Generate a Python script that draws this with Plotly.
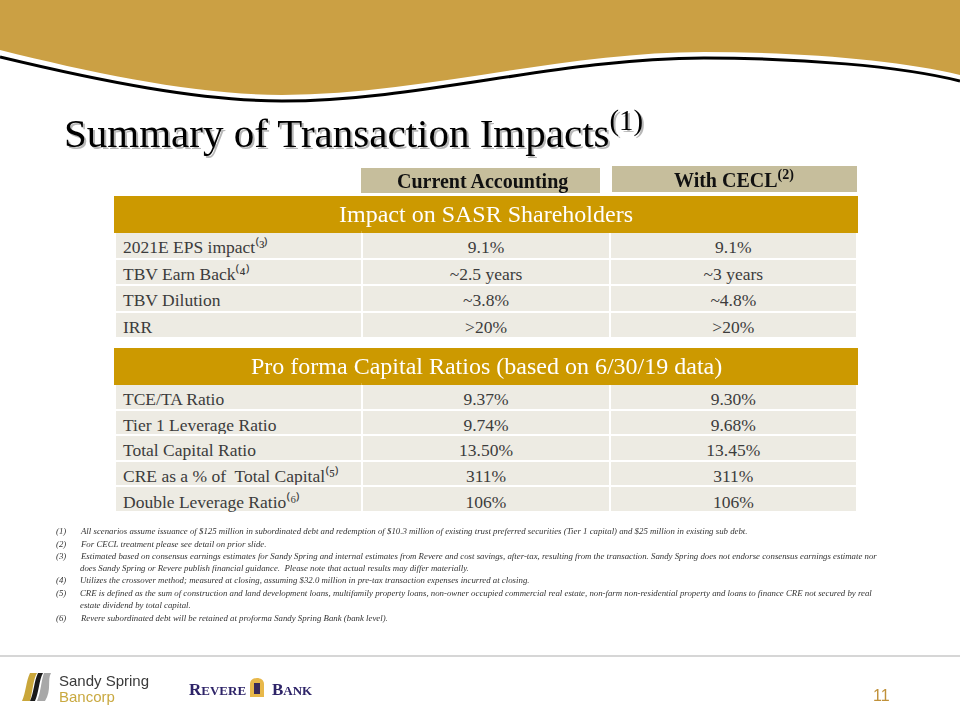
import plotly.graph_objects as go

# ---------------- data ----------------
title_text = "Summary of Transaction Impacts<sup>(1)</sup>"
col_headers = ["Current Accounting", "With CECL<sup>(2)</sup>"]

sec1_title = "Impact on SASR Shareholders"
sec1_labels = ["2021E EPS impact⁽³⁾", "TBV Earn Back⁽⁴⁾", "TBV Dilution", "IRR"]
sec1_current = ["9.1%", "~2.5 years", "~3.8%", ">20%"]
sec1_cecl = ["9.1%", "~3 years", "~4.8%", ">20%"]

sec2_title = "Pro forma Capital Ratios (based on 6/30/19 data)"
sec2_labels = ["TCE/TA Ratio", "Tier 1 Leverage Ratio", "Total Capital Ratio",
               "CRE as a % of  Total Capital⁽⁵⁾", "Double Leverage Ratio⁽⁶⁾"]
sec2_current = ["9.37%", "9.74%", "13.50%", "311%", "106%"]
sec2_cecl = ["9.30%", "9.68%", "13.45%", "311%", "106%"]

footnote_nums = ["(1)", "(2)", "(3)", "", "(4)", "(5)", "", "(6)"]
footnote_lines = [
    "All scenarios assume issuance of $125 million in subordinated debt and redemption of $10.3 million of existing trust preferred securities (Tier 1 capital) and $25 million in existing sub debt.",
    "For CECL treatment please see detail on prior slide.",
    "Estimated based on consensus earnings estimates for Sandy Spring and internal estimates from Revere and cost savings, after-tax, resulting from the transaction. Sandy Spring does not endorse consensus earnings estimate nor",
    "does Sandy Spring or Revere publish financial guidance.  Please note that actual results may differ materially.",
    "Utilizes the crossover method; measured at closing, assuming $32.0 million in pre-tax transaction expenses incurred at closing.",
    "CRE is defined as the sum of construction and land development loans, multifamily property loans, non-owner occupied commercial real estate, non-farm non-residential property and loans to finance CRE not secured by real",
    "estate dividend by total capital.",
    "Revere subordinated debt will be retained at proforma Sandy Spring Bank (bank level).",
]
page_number = "11"

# ---------------- style ----------------
W, H = 960, 720
BAND = "#CBA044"
GOLD = "#CC9900"
CELL = "#EDEBE3"
TAN = "#C6BE9C"
TXT = "#3C3C3C"
SERIF = "Liberation Serif"
LW = 2
HDR_H = 35
CELL_FONT = dict(family=SERIF, size=17.5, color=TXT)
ALIGN = ["left", "center", "center"]

fig = go.Figure()
# invisible trace to establish a pixel coordinate system
fig.add_trace(go.Scatter(x=[0, W], y=[0, H], mode="markers", opacity=0,
                         hoverinfo="skip", showlegend=False))

def dom(top, bottom):
    return dict(x=[115 / W, 857 / W], y=[1 - bottom / H, 1 - top / H])

def has_sign(v):
    return v[:1] in (">", "<")

def add_section(labels, cur, cecl, top, row_h):
    plain = [i for i in range(len(labels)) if not (has_sign(cur[i]) or has_sign(cecl[i]))]
    signed = [i for i in range(len(labels)) if i not in plain]
    n = len(plain)
    fig.add_trace(go.Table(
        domain=dom(top, top + HDR_H + (n + 1) * row_h + 10),
        columnwidth=[1, 1, 1],
        header=dict(values=["", "", ""], fill_color=GOLD,
                    line=dict(color=GOLD, width=LW), height=HDR_H),
        cells=dict(values=[[labels[i] for i in plain], [cur[i] for i in plain],
                           [cecl[i] for i in plain]],
                   fill_color=CELL, line=dict(color="white", width=LW), height=row_h,
                   align=ALIGN, font=CELL_FONT),
    ))
    # rows whose values start with a comparison sign: one-row tables where the sign
    # is passed as a column prefix, so the text stays plain (fixed row height)
    y = top + HDR_H + n * row_h
    for i in signed:
        pre = ["", cur[i][0] if has_sign(cur[i]) else "", cecl[i][0] if has_sign(cecl[i]) else ""]
        vals = [labels[i], cur[i][1:] if has_sign(cur[i]) else cur[i],
                cecl[i][1:] if has_sign(cecl[i]) else cecl[i]]
        fig.add_trace(go.Table(
            domain=dom(y, y + row_h + 10),
            columnwidth=[1, 1, 1],
            header=dict(values=vals, prefix=pre, fill_color=CELL,
                        line=dict(color="white", width=LW), height=row_h,
                        align=ALIGN, font=CELL_FONT),
            cells=dict(values=[[], [], []]),
        ))
        y += row_h

add_section(sec1_labels, sec1_current, sec1_cecl, 197, 26.5)
add_section(sec2_labels, sec2_current, sec2_cecl, 349, 25.6)

shapes = []
# top wave band
shapes.append(dict(type="path", xref="x", yref="y", layer="above",
                   path="M0,0 L960,0 L960,75 C900,60 800,52 704,52 C560,52 420,95 282,95 C200,95 100,75 0,50 Z",
                   fillcolor=BAND, line=dict(width=0)))
shapes.append(dict(type="path", xref="x", yref="y", layer="above",
                   path="M960,81 C900,66 800,58 704,58 C560,58 420,101 282,101 C200,101 100,81 0,57",
                   line=dict(color="black", width=3)))
# column header boxes
shapes.append(dict(type="rect", xref="x", yref="y", x0=361, x1=600, y0=168, y1=193,
                   fillcolor=TAN, line=dict(width=0)))
shapes.append(dict(type="rect", xref="x", yref="y", x0=612, x1=857, y0=166, y1=192,
                   fillcolor=TAN, line=dict(width=0)))
# footer rule
shapes.append(dict(type="line", xref="x", yref="y", x0=0, x1=960, y0=656, y1=656,
                   line=dict(color="#D6D6D6", width=2)))
# Sandy Spring icon (approximate)
shapes.append(dict(type="path", xref="x", yref="y",
                   path="M30,673 L37,673 C33,680 33,690 30,701 L22,701 C26,692 26,681 30,673 Z",
                   fillcolor="#C9A63A", line=dict(width=0)))
shapes.append(dict(type="path", xref="x", yref="y",
                   path="M38,673 L43,673 C39,680 39,692 35,701 L30,701 C34,692 34,681 38,673 Z",
                   fillcolor="#1A1A1A", line=dict(width=0)))
shapes.append(dict(type="path", xref="x", yref="y",
                   path="M44,673 L51,673 C47,680 52,690 45,701 L37,701 C41,692 41,681 44,673 Z",
                   fillcolor="#A8A8A8", line=dict(width=0)))
# Revere lantern icon (approximate)
shapes.append(dict(type="path", xref="x", yref="y",
                   path="M250,697 L250,684 C250,676 264,676 264,684 L264,697 Z",
                   fillcolor="#E8B84A", line=dict(width=0)))
shapes.append(dict(type="rect", xref="x", yref="y", x0=254, x1=260, y0=683, y1=694,
                   fillcolor="#3A2A5A", line=dict(width=0)))
fig.update_layout(shapes=shapes)

ann = []
# title with shadow
ann.append(dict(x=63.5, y=131.5, xref="x", yref="y", text=title_text, showarrow=False,
                xanchor="left", yanchor="middle",
                font=dict(family=SERIF, size=41, color="#B8B8B8")))
ann.append(dict(x=62, y=130, xref="x", yref="y", text=title_text, showarrow=False,
                xanchor="left", yanchor="middle",
                font=dict(family=SERIF, size=41, color="#000000")))
# column headers
ann.append(dict(x=482, y=181, xref="x", yref="y", text="<b>" + col_headers[0] + "</b>",
                showarrow=False, xanchor="center", yanchor="middle",
                font=dict(family=SERIF, size=20, color="#111111")))
ann.append(dict(x=734, y=179, xref="x", yref="y", text="<b>" + col_headers[1] + "</b>",
                showarrow=False, xanchor="center", yanchor="middle",
                font=dict(family=SERIF, size=20, color="#111111")))
# section headers
ann.append(dict(x=486, y=214, xref="x", yref="y", text=sec1_title, showarrow=False,
                xanchor="center", yanchor="middle",
                font=dict(family=SERIF, size=24, color="white")))
ann.append(dict(x=486, y=366, xref="x", yref="y", text=sec2_title, showarrow=False,
                xanchor="center", yanchor="middle",
                font=dict(family=SERIF, size=24, color="white")))
# footnotes
fy = [531, 543.5, 555.5, 567.5, 580, 592.5, 604.5, 618]
for num, line, y in zip(footnote_nums, footnote_lines, fy):
    if num:
        ann.append(dict(x=54, y=y, xref="x", yref="y", text="<i>" + num + "</i>",
                        showarrow=False, xanchor="left", yanchor="middle",
                        font=dict(family=SERIF, size=8.8, color="#333333")))
    ann.append(dict(x=78, y=y, xref="x", yref="y", text="<i>" + line + "</i>",
                    showarrow=False, xanchor="left", yanchor="middle",
                    font=dict(family=SERIF, size=8.8, color="#333333")))
# logos text
ann.append(dict(x=57, y=680, xref="x", yref="y", text="Sandy Spring", showarrow=False,
                xanchor="left", yanchor="middle",
                font=dict(family="Liberation Sans", size=15, color="#3A3A3A")))
ann.append(dict(x=57, y=696, xref="x", yref="y", text="Bancorp", showarrow=False,
                xanchor="left", yanchor="middle",
                font=dict(family="Liberation Sans", size=15, color="#C9A940")))
ann.append(dict(x=248, y=689, xref="x", yref="y",
                text="<b>R<span style='font-size:13px'>EVERE</span></b>", showarrow=False,
                xanchor="right", yanchor="middle",
                font=dict(family=SERIF, size=17, color="#2E2468")))
ann.append(dict(x=270, y=689, xref="x", yref="y",
                text="<b>B<span style='font-size:13px'>ANK</span></b>", showarrow=False,
                xanchor="left", yanchor="middle",
                font=dict(family=SERIF, size=17, color="#2E2468")))
ann.append(dict(x=892, y=695, xref="x", yref="y", text=page_number, showarrow=False,
                xanchor="right", yanchor="middle",
                font=dict(family="Liberation Sans", size=16, color="#C0913A")))

fig.update_layout(
    annotations=ann,
    width=W, height=H,
    margin=dict(l=0, r=0, t=0, b=0),
    paper_bgcolor="white", plot_bgcolor="white",
    xaxis=dict(range=[0, W], visible=False, fixedrange=True),
    yaxis=dict(range=[H, 0], visible=False, fixedrange=True),
    showlegend=False,
)

fig.write_html("out.html", config={"displayModeBar": False},
               post_script="document.body.style.margin='0';")
